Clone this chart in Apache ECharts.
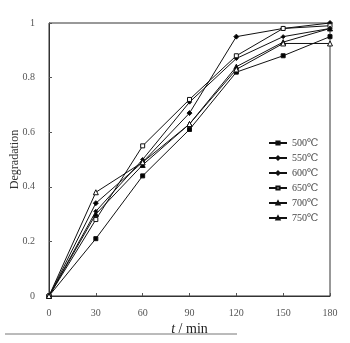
<!DOCTYPE html>
<html><head><meta charset="utf-8">
<script src="https://cdn.jsdelivr.net/npm/echarts@6/dist/echarts.min.js"></script>
<style>html,body{margin:0;padding:0;background:#fff}#c{width:350px;height:343px}</style>
</head><body><div id="c"></div>
<script>
const times = [0, 30, 60, 90, 120, 150, 180];
const xTicks = ['0','30','60','90','120','150','180'];
const s500 = [0, 0.21, 0.44, 0.61, 0.82, 0.88, 0.95];
const s550 = [0, 0.31, 0.50, 0.71, 0.87, 0.95, 0.98];
const s600 = [0, 0.34, 0.49, 0.67, 0.95, 0.98, 1.00];
const s650 = [0, 0.28, 0.55, 0.72, 0.88, 0.98, 0.99];
const s700 = [0, 0.30, 0.48, 0.63, 0.84, 0.93, 0.98];
const s750 = [0, 0.38, 0.49, 0.63, 0.83, 0.925, 0.925];
const names = ['500℃','550℃','600℃','650℃','700℃','750℃'];
const seriesData = [s500, s550, s600, s650, s700, s750];
const symbols = ['rect','diamond','diamond','rect','triangle','triangle'];
const symSizes = [4,4,5,4,5,5];
const fills = ['#000','#000','#000','#fff','#000','#fff'];

const font = '"Liberation Serif", "DejaVu Serif", serif';
const chart = echarts.init(document.getElementById('c'));
chart.setOption({
  animation: false,
  textStyle: {fontFamily: font},
  grid: {left: 49, right: 20, top: 23, bottom: 47, show: true, borderColor: '#333', borderWidth: 1, outerBoundsMode: 'none', containLabel: false},
  legend: {
    orient: 'vertical', left: 263, top: 133, itemGap: 5, itemWidth: 18, itemHeight: 4,
    textStyle: {fontFamily: font, fontSize: 10, color: '#444'},
    data: names
  },
  xAxis: {
    type: 'value', min: 0, max: 180, interval: 30,
    axisLine: {lineStyle: {color: '#333'}},
    axisTick: {inside: true, length: 3, lineStyle: {color: '#555'}},
    axisLabel: {color: '#555', fontSize: 10, margin: 12},
    splitLine: {show: false},
    name: '{i|t} / min', nameLocation: 'middle', nameGap: 26, nameMoveOverlap: false,
    nameTextStyle: {fontSize: 14, color: '#222', rich: {i: {fontStyle: 'italic', fontSize: 14, fontFamily: font}}}
  },
  yAxis: {
    type: 'value', min: 0, max: 1, interval: 0.2,
    axisLine: {lineStyle: {color: '#333'}},
    axisTick: {inside: true, length: 3, lineStyle: {color: '#555'}},
    axisLabel: {color: '#555', fontSize: 10, margin: 14, formatter: v => v === 0 ? '0' : (v === 1 ? '1' : v.toFixed(1))},
    splitLine: {show: false},
    name: 'Degradation', nameLocation: 'middle', nameGap: 28, nameRotate: 90, nameMoveOverlap: false,
    nameTextStyle: {fontSize: 12, color: '#333'}
  },
  graphic: [{type: 'line', shape: {x1: 5, y1: 334, x2: 237, y2: 334}, style: {stroke: '#777', lineWidth: 1}}],
  series: seriesData.map((d, i) => ({
    name: names[i], type: 'line',
    data: d.map((v, j) => [times[j], v]),
    symbol: symbols[i], symbolSize: symSizes[i], showSymbol: true,
    lineStyle: {color: '#111', width: 1},
    itemStyle: {color: fills[i], borderColor: '#111', borderWidth: 1}
  }))
});
</script></body></html>
